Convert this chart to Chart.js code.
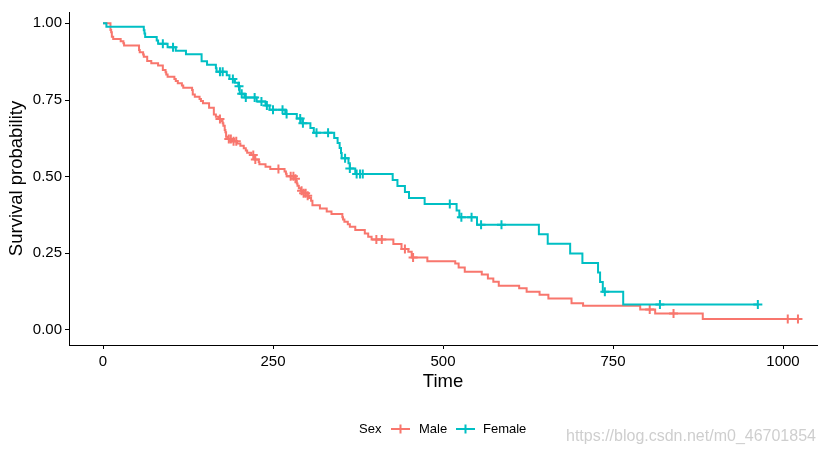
<!DOCTYPE html>
<html>
<head>
<meta charset="utf-8">
<script src="https://cdn.jsdelivr.net/npm/chart.js@4"></script>
<style>
  html, body { margin: 0; padding: 0; background: #fff; }
  #wrap { width: 825px; height: 455px; position: relative; }
</style>
</head>
<body>
<div id="wrap"><canvas id="km" width="825" height="455"></canvas></div>
<script>
// Kaplan-Meier steps (time of event, survival after it)
const maleTime = [11, 12, 13, 15, 26, 30, 31, 53, 54, 59, 60, 65, 71, 81, 88, 92, 93, 95, 105, 107,
  110, 116, 118, 131, 132, 135, 142, 144, 147, 156, 163, 166, 170, 175, 176, 177, 179, 180, 181, 183,
  189, 197, 202, 207, 210, 212, 218, 222, 223, 229, 230, 239, 246, 267, 269, 270, 283, 284, 285, 286,
  288, 291, 293, 301, 303, 306, 308, 319, 329, 336, 352, 353, 355, 360, 363, 371, 385, 390, 395, 427,
  439, 449, 454, 477, 518, 523, 532, 557, 566, 574, 582, 612, 623, 642, 655, 689, 706, 790, 812, 882];
const maleSurv = [0.9783, 0.9710, 0.9565, 0.9493, 0.9420, 0.9348, 0.9275, 0.9130, 0.9058, 0.8986,
  0.8913, 0.8768, 0.8696, 0.8623, 0.8478, 0.8406, 0.8333, 0.8261, 0.8188, 0.8116,
  0.8043, 0.7971, 0.7899, 0.7826, 0.7681, 0.7609, 0.7536, 0.7464, 0.7391, 0.7246,
  0.7029, 0.6957, 0.6884, 0.6811, 0.6738, 0.6664, 0.6518, 0.6445, 0.6298, 0.6225,
  0.6152, 0.6078, 0.6004, 0.5930, 0.5856, 0.5782, 0.5708, 0.5632, 0.5556, 0.5480,
  0.5404, 0.5326, 0.5248, 0.5170, 0.5091, 0.5013, 0.4935, 0.4856, 0.4778, 0.4700,
  0.4621, 0.4543, 0.4460, 0.4380, 0.4300, 0.4214, 0.4070, 0.3960, 0.3860, 0.3780,
  0.3680, 0.3600, 0.3530, 0.3450, 0.3370, 0.3260, 0.3150, 0.3040, 0.2950, 0.2800,
  0.2640, 0.2550, 0.2360, 0.2240, 0.2170, 0.2040, 0.1900, 0.1810, 0.1680, 0.1570,
  0.1440, 0.1360, 0.1250, 0.1150, 0.1030, 0.0870, 0.0790, 0.0670, 0.0540, 0.0360];
const maleCensor = [172, 185, 188, 192, 196, 221, 224, 258, 276, 280, 283, 292, 295, 298, 301,
  402, 410, 444, 456, 804, 839, 1007, 1022];
const maleEnd = 1022;

const femaleTime = [5, 60, 61, 62, 79, 81, 95, 107, 122, 145, 153, 166, 167, 182, 186, 194, 199, 201,
  208, 226, 239, 245, 268, 285, 293, 305, 310, 340, 345, 348, 350, 351, 361, 363, 371, 426, 433, 444,
  450, 473, 520, 524, 550, 641, 654, 687, 705, 728, 731, 735, 765];
const femaleSurv = [0.9889, 0.9778, 0.9667, 0.9556, 0.9444, 0.9333, 0.9221, 0.9107, 0.8993, 0.8766,
  0.8652, 0.8538, 0.8424, 0.8305, 0.8187, 0.8066, 0.7946, 0.7705, 0.7581, 0.7452,
  0.7322, 0.7186, 0.7045, 0.6895, 0.6742, 0.6585, 0.6428, 0.6264, 0.6099, 0.5934,
  0.5769, 0.5604, 0.5434, 0.5265, 0.5089, 0.4893, 0.4698, 0.4502, 0.4306, 0.4110,
  0.3894, 0.3678, 0.3433, 0.3121, 0.2809, 0.2497, 0.2185, 0.1873, 0.1561, 0.1249, 0.0832];
const femaleCensor = [88, 103, 172, 176, 191, 200, 204, 210, 223, 233, 241, 250, 264, 270, 290, 294,
  314, 331, 356, 363, 373, 378, 382, 510, 527, 542, 556, 586, 738, 819, 963];
const femaleEnd = 963;

const xTicks = [0, 250, 500, 750, 1000];
const yTicks = [0, 0.25, 0.5, 0.75, 1];
const groups = ['Male', 'Female'];

const MALE_COL = '#F8766D';
const FEMALE_COL = '#00BFC4';
const FONT = '"Liberation Sans", Arial, sans-serif';

function survAt(times, surv, t) {
  let s = 1;
  for (let i = 0; i < times.length; i++) {
    if (times[i] <= t) s = surv[i];
  }
  return s;
}

function stepLine(times, surv, end) {
  const pts = [{x: 0, y: 1}];
  times.forEach((t, i) => pts.push({x: t, y: surv[i]}));
  pts.push({x: end, y: surv[surv.length - 1]});
  return pts;
}

function censorPts(times, surv, cens) {
  return cens.map(t => ({x: t, y: survAt(times, surv, t)}));
}

// legend + watermark drawn by hand, ggplot style
const bottomLegend = {
  id: 'bottomLegend',
  afterDraw(chart) {
    const ctx = chart.ctx;
    const y = 429;
    ctx.save();
    ctx.font = '13px ' + FONT;
    ctx.textBaseline = 'middle';
    ctx.fillStyle = '#000';
    ctx.fillText('Sex', 359, y);

    const keys = [[391, MALE_COL, 419], [456, FEMALE_COL, 483]];
    keys.forEach(([kx, col, tx], i) => {
      ctx.strokeStyle = col;
      ctx.lineWidth = 2;
      ctx.beginPath();
      ctx.moveTo(kx, y); ctx.lineTo(kx + 19, y);
      ctx.moveTo(kx + 9.5, y - 4.5); ctx.lineTo(kx + 9.5, y + 4.5);
      ctx.stroke();
      ctx.fillStyle = '#000';
      ctx.fillText(groups[i], tx, y);
    });

    ctx.font = '16px ' + FONT;
    ctx.fillStyle = 'rgba(190,190,190,0.75)';
    ctx.fillText('https://blog.csdn.net/m0_46701854', 566, 437);
    ctx.restore();
  }
};

new Chart(document.getElementById('km'), {
  type: 'line',
  data: {
    datasets: [
      {
        label: 'Female',
        data: stepLine(femaleTime, femaleSurv, femaleEnd),
        borderColor: FEMALE_COL,
        borderWidth: 2,
        stepped: true,
        pointRadius: 0,
        fill: false,
        order: 1
      },
      {
        label: 'Female censored',
        data: censorPts(femaleTime, femaleSurv, femaleCensor),
        showLine: false,
        pointStyle: 'cross',
        pointRadius: 4.5,
        borderWidth: 2,
        borderColor: FEMALE_COL,
        order: 0
      },
      {
        label: 'Male',
        data: stepLine(maleTime, maleSurv, maleEnd),
        borderColor: MALE_COL,
        borderWidth: 2,
        stepped: true,
        pointRadius: 0,
        fill: false,
        order: 3
      },
      {
        label: 'Male censored',
        data: censorPts(maleTime, maleSurv, maleCensor),
        showLine: false,
        pointStyle: 'cross',
        pointRadius: 4.5,
        borderWidth: 2,
        borderColor: MALE_COL,
        order: 2
      }
    ]
  },
  options: {
    responsive: false,
    animation: false,
    devicePixelRatio: 1,
    layout: {padding: {top: 8, right: 8, left: 6, bottom: 62}},
    plugins: {
      legend: {display: false},
      tooltip: {enabled: false}
    },
    scales: {
      x: {
        type: 'linear',
        min: -50,
        max: 1050,
        afterBuildTicks: (scale) => { scale.ticks = xTicks.map(v => ({value: v})); },
        afterFit: (scale) => { scale.height = 48; },
        grid: {drawOnChartArea: false, drawTicks: true, tickLength: 4, color: '#000', lineWidth: 1},
        border: {display: true, color: '#000', width: 1},
        ticks: {color: '#000', padding: 4, font: {family: FONT, size: 15}, maxRotation: 0,
          callback: (v) => String(v)},
        title: {display: true, text: 'Time', color: '#000', padding: 0, font: {family: FONT, size: 18.5}}
      },
      y: {
        type: 'linear',
        min: -0.049,
        max: 1.037,
        afterBuildTicks: (scale) => { scale.ticks = yTicks.map(v => ({value: v})); },
        afterFit: (scale) => { scale.width = 63; },
        grid: {drawOnChartArea: false, drawTicks: true, tickLength: 4, color: '#000', lineWidth: 1},
        border: {display: true, color: '#000', width: 1},
        ticks: {
          color: '#000',
          padding: 3,
          font: {family: FONT, size: 15},
          callback: (v) => Number(v).toFixed(2)
        },
        title: {display: true, text: 'Survival probability', color: '#000', padding: 0, font: {family: FONT, size: 18.5}}
      }
    }
  },
  plugins: [bottomLegend]
});
</script>
</body>
</html>
